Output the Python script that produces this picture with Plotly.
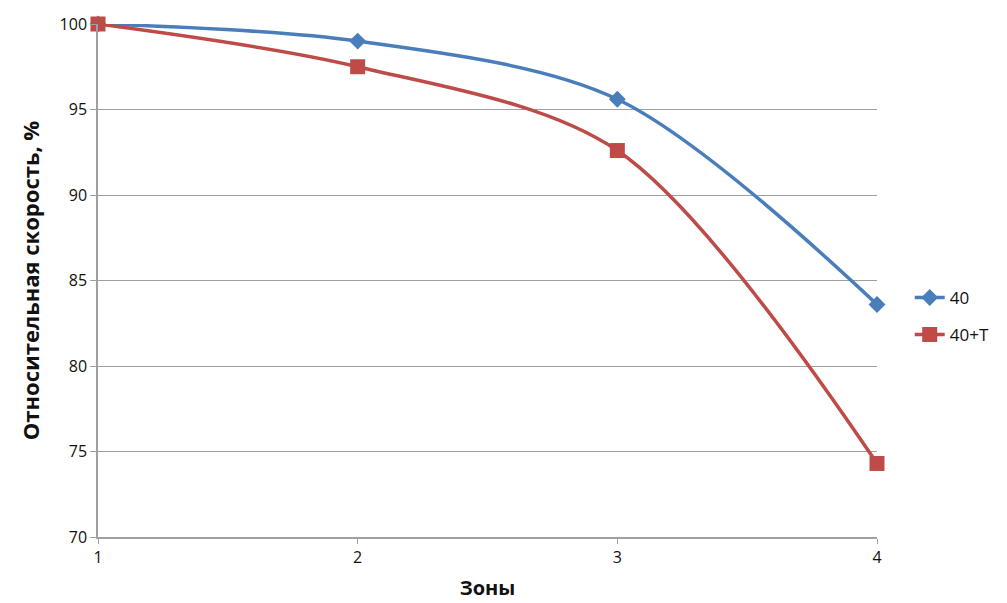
import plotly.graph_objects as go

zones = [1, 2, 3, 4]
s40 = [100, 99.0, 95.6, 83.6]
s40t = [100, 97.5, 92.6, 74.3]
y_ticks = [70, 75, 80, 85, 90, 95, 100]

fig = go.Figure()
fig.add_trace(go.Scatter(x=zones, y=s40, name="40", mode="lines+markers",
                         line=dict(color="#4a7ebb", width=3.5, shape="spline", smoothing=0.9),
                         marker=dict(symbol="diamond", size=13, color="#4a7ebb"),
                         legendgroup="a", cliponaxis=False))
fig.add_trace(go.Scatter(x=zones, y=s40t, name="40+T", mode="lines+markers",
                         line=dict(color="#be4b48", width=3.5, shape="spline", smoothing=0.9),
                         marker=dict(symbol="square", size=15, color="#be4b48"),
                         legendgroup="b", cliponaxis=False))

font = "Open Sans, Noto Sans, sans-serif"
fig.update_layout(
    width=1007, height=603,
    margin=dict(l=98, r=130, t=24, b=66, autoexpand=False),
    plot_bgcolor="white", paper_bgcolor="white",
    font=dict(family=font, color="#111", size=16),
    legend=dict(x=1.042, y=0.43, xanchor="left", yanchor="middle",
                tracegroupgap=12, font=dict(size=17), bgcolor="rgba(0,0,0,0)"),
    xaxis=dict(range=[1, 4], tickvals=zones, ticktext=[str(z) for z in zones],
               showgrid=False, showline=True, linecolor="#a0a0a0", linewidth=1.5,
               ticks="outside", tickcolor="#a0a0a0", ticklen=5, automargin=False,
               title=dict(text="<b>Зоны</b>", font=dict(size=20), standoff=14),
               zeroline=False),
    yaxis=dict(range=[70, 100], tickvals=y_ticks, ticktext=[str(v) for v in y_ticks],
               showgrid=True, gridcolor="#a0a0a0", gridwidth=1, automargin=False,
               showline=True, linecolor="#a0a0a0", linewidth=1.5,
               ticks="outside", tickcolor="#a0a0a0", ticklen=6,
               title=dict(text="<b>Относительная скорость, %</b>", font=dict(size=22), standoff=14),
               zeroline=False),
)
fig.write_html("out.html")
